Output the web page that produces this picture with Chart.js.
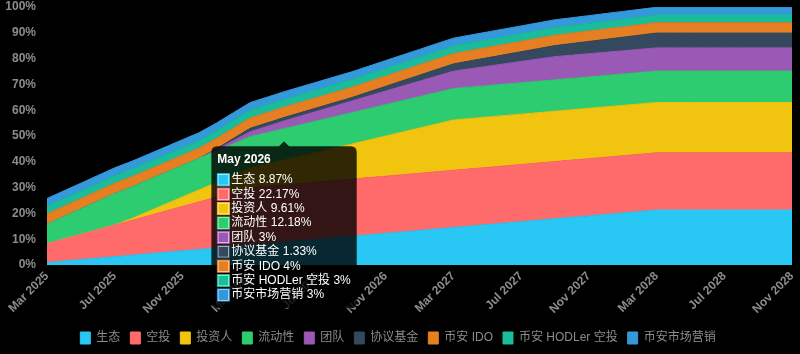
<!DOCTYPE html>
<html>
<head>
<meta charset="utf-8">
<script src="https://cdn.jsdelivr.net/npm/chart.js@4.4.1/dist/chart.umd.min.js"></script>
<style>
  html, body { margin: 0; padding: 0; background: #000; }
  #wrap { width: 800px; height: 354px; position: relative; background: #000; }
</style>
</head>
<body>
<div id="wrap"><canvas id="c"></canvas></div>
<script>
const months = [
  "Mar 2025","Apr 2025","May 2025","Jun 2025","Jul 2025","Aug 2025","Sep 2025","Oct 2025","Nov 2025","Dec 2025",
  "Jan 2026","Feb 2026","Mar 2026","Apr 2026","May 2026","Jun 2026","Jul 2026","Aug 2026","Sep 2026","Oct 2026",
  "Nov 2026","Dec 2026","Jan 2027","Feb 2027","Mar 2027","Apr 2027","May 2027","Jun 2027","Jul 2027","Aug 2027",
  "Sep 2027","Oct 2027","Nov 2027","Dec 2027","Jan 2028","Feb 2028","Mar 2028","Apr 2028","May 2028","Jun 2028",
  "Jul 2028","Aug 2028","Sep 2028","Oct 2028","Nov 2028"
];

const seriesNames = ["生态","空投","投资人","流动性","团队","协议基金","币安 IDO","币安 HODLer 空投","币安市场营销"];
const seriesColors = ["#29c7f4","#ff6b6b","#f1c40f","#2ecc71","#9b59b6","#34495e","#e67e22","#1abc9c","#3498db"];

const ecosystem = [0.96,1.53,2.09,2.66,3.22,3.79,4.35,4.92,5.48,6.05,6.61,7.18,7.74,8.31,8.87,9.44,10.00,10.57,11.13,11.70,
  12.26,12.83,13.39,13.96,14.52,15.09,15.65,16.22,16.78,17.35,17.91,18.48,19.04,19.61,20.17,20.74,21.30,21.30,21.30,21.30,
  21.30,21.30,21.30,21.30,21.30];
const airdrop = [7.30,8.54,9.78,11.02,12.26,13.50,14.74,15.97,17.21,18.45,19.69,20.93,22.17,22.17,22.17,22.17,22.17,22.17,22.17,22.17,
  22.17,22.17,22.17,22.17,22.17,22.17,22.17,22.17,22.17,22.17,22.17,22.17,22.17,22.17,22.17,22.17,22.17,22.17,22.17,22.17,
  22.17,22.17,22.17,22.17,22.17];
const investors = [0,0,0,0,0,0.71,1.70,2.69,3.68,4.67,5.66,6.65,7.64,8.62,9.61,10.60,11.59,12.58,13.57,14.56,
  15.55,16.54,17.52,18.51,19.50,19.50,19.50,19.50,19.50,19.50,19.50,19.50,19.50,19.50,19.50,19.50,19.50,19.50,19.50,19.50,
  19.50,19.50,19.50,19.50,19.50];
const liquidity = [7.50,8.67,9.84,11.01,12.18,12.18,12.18,12.18,12.18,12.18,12.18,12.18,12.18,12.18,12.18,12.18,12.18,12.18,12.18,12.18,
  12.18,12.18,12.18,12.18,12.18,12.18,12.18,12.18,12.18,12.18,12.18,12.18,12.18,12.18,12.18,12.18,12.18,12.18,12.18,12.18,
  12.18,12.18,12.18,12.18,12.18];
const team = [0,0,0,0,0,0,0,0,0,0,0.55,1.25,1.90,2.45,3,3.38,3.75,4.13,4.50,4.88,
  5.25,5.63,6.00,6.38,6.75,7.13,7.50,7.88,8.25,8.63,9.00,9.00,9.00,9.00,9.00,9.00,9.00,9.00,9.00,9.00,
  9.00,9.00,9.00,9.00,9.00];
const protocolFund = [0,0,0,0,0,0,0,0,0,0,0.30,0.80,1.33,1.33,1.33,1.33,1.33,1.33,1.33,1.58,
  1.82,2.07,2.31,2.56,2.80,3.05,3.29,3.54,3.78,4.03,4.27,4.52,4.76,5.01,5.25,5.50,5.74,5.74,5.74,5.74,
  5.74,5.74,5.74,5.74,5.74];
const binanceIDO = [4,4,4,4,4,4,4,4,4,4,4,4,4,4,4,4,4,4,4,4,4,4,4,4,4,4,4,4,4,4,4,4,4,4,4,4,4,4,4,4,4,4,4,4,4];
const hodlerAirdrop = [3,3,3,3,3,3,3,3,3,3,3,3,3,3,3,3,3,3,3,3,3,3,3,3,3,3,3,3,3,3,3,3,3,3,3,3,3,3,3,3,3,3,3,3,3];
const marketing = [3,3,3,3,3,3,3,3,3,3,3,3,3,3,3,3,3,3,3,3,3,3,3,3,3,3,3,3,3,3,3,3,3,3,3,3,3,3,3,3,3,3,3,3,3];

const yTicks = [0,10,20,30,40,50,60,70,80,90,100];
const tooltipIndex = 14;

const seriesData = [ecosystem, airdrop, investors, liquidity, team, protocolFund, binanceIDO, hodlerAirdrop, marketing];

Chart.defaults.font.family = "'Liberation Sans', Arial, 'Noto Sans CJK SC', sans-serif";

const datasets = seriesData.map((arr, i) => ({
  label: seriesNames[i],
  data: arr,
  backgroundColor: seriesColors[i],
  borderColor: seriesColors[i],
  borderWidth: 1,
  fill: i === 0 ? 'origin' : '-1',
  pointRadius: 0,
  pointHoverRadius: 0,
  tension: 0
}));

const chart = new Chart(document.getElementById('c'), {
  type: 'line',
  data: { labels: months, datasets },
  options: {
    responsive: true,
    maintainAspectRatio: false,
    animation: false,
    layout: { padding: { left: 4, right: 8, top: 0, bottom: 0 } },
    interaction: { mode: 'index', intersect: false },
    scales: {
      x: {
        grid: { display: false, drawTicks: false },
        border: { display: false },
        afterFit: function (axis) { axis.height = 57; axis.paddingLeft = 0; axis.paddingRight = 0; },
        ticks: {
          autoSkip: false,
          minRotation: 45,
          maxRotation: 45,
          padding: 4,
          color: '#8c8c8c',
          font: { size: 12, weight: 'bold' },
          callback: function (v, i) { return i % 4 === 0 ? months[i] : null; }
        }
      },
      y: {
        stacked: true,
        min: 0,
        max: 100,
        grid: { display: false, drawTicks: false },
        border: { display: false },
        afterBuildTicks: function (axis) { axis.ticks = yTicks.map(v => ({ value: v })); },
        afterFit: function (axis) { axis.width = 43; axis.paddingTop = 7; axis.paddingBottom = 0; },
        ticks: {
          color: '#8c8c8c',
          padding: 11,
          font: { size: 12, weight: 'bold' },
          callback: function (v) { return v + '%'; }
        }
      }
    },
    plugins: {
      legend: {
        position: 'bottom',
        labels: {
          color: '#8c8c8c',
          boxWidth: 10,
          boxHeight: 12,
          padding: 10,
          font: { size: 12 }
        }
      },
      tooltip: {
        mode: 'index',
        intersect: false,
        xAlign: 'center',
        yAlign: 'top',
        bodySpacing: 0,
        titleFont: { size: 12, weight: 'bold' },
        bodyFont: { size: 12 },
        callbacks: {
          label: function (ctx) { return ctx.dataset.label + ' ' + ctx.parsed.y + '%'; }
        }
      }
    }
  }
});

const active = datasets.map((d, i) => ({ datasetIndex: i, index: tooltipIndex }));
chart.tooltip.setActiveElements(active, { x: chart.scales.x.getPixelForValue(tooltipIndex), y: 140 });
chart.update();
</script>
</body>
</html>
